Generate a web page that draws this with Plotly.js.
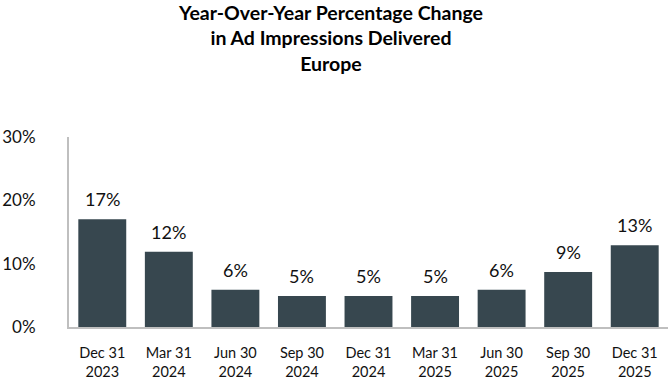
<!DOCTYPE html>
<html>
<head>
<meta charset="utf-8">
<script src="https://cdn.plot.ly/plotly-3.0.1.min.js"></script>
<style>html,body{margin:0;padding:0;background:#fff;}#chart{width:672px;height:384px;}</style>
</head>
<body>
<div id="chart"></div>
<script>
var categories = ["Dec 31<br>2023","Mar 31<br>2024","Jun 30<br>2024","Sep 30<br>2024","Dec 31<br>2024","Mar 31<br>2025","Jun 30<br>2025","Sep 30<br>2025","Dec 31<br>2025"];
var values = [17.0, 11.9, 5.9, 4.9, 4.9, 4.9, 5.9, 8.7, 12.9];
var labels = ["17%","12%","6%","5%","5%","5%","6%","9%","13%"];
var yTickVals = [0, 10, 20, 30];
var yTickText = ["0%","10%","20%","30%"];
var titleText = "<b>Year-Over-Year Percentage Change<br>in Ad Impressions Delivered<br>Europe</b>";

var FONT = "Lato, 'Open Sans', sans-serif";
var annotations = categories.map(function(c, i){
  return {x: c, y: values[i], text: labels[i], showarrow: false, yanchor: "bottom", yshift: 7,
          font: {family: FONT, size: 18, color: "#111"}};
});
annotations.push({xref: "paper", yref: "paper", x: 0.437, y: 1 + 138/190, xanchor: "center", yanchor: "top",
  text: titleText, showarrow: false, font: {family: FONT, size: 19.5, color: "#000"}});

var trace = {
  type: "bar", x: categories, y: values,
  marker: {color: "#37474f"},
  hoverinfo: "skip"
};

var layout = {
  width: 672, height: 384,
  margin: {l: 69, r: 4, t: 137, b: 57},
  paper_bgcolor: "#fff", plot_bgcolor: "#fff",
  bargap: 0.28,
  showlegend: false,
  xaxis: {type: "category", showgrid: false, zeroline: false, showline: true, linecolor: "#bfbfbf", linewidth: 2,
          ticks: "outside", ticklen: 12, tickcolor: "rgba(0,0,0,0)",
          tickfont: {family: FONT, size: 14.5, color: "#111"}},
  yaxis: {range: [0, 30], tickvals: yTickVals, ticktext: yTickText, showgrid: false, zeroline: false,
          showline: true, linecolor: "#bfbfbf", linewidth: 2,
          ticks: "outside", ticklen: 28, tickcolor: "rgba(0,0,0,0)",
          tickfont: {family: FONT, size: 17, color: "#111"}},
  annotations: annotations
};

Plotly.newPlot("chart", [trace], layout, {displayModeBar: false, staticPlot: true});
</script>
</body>
</html>
